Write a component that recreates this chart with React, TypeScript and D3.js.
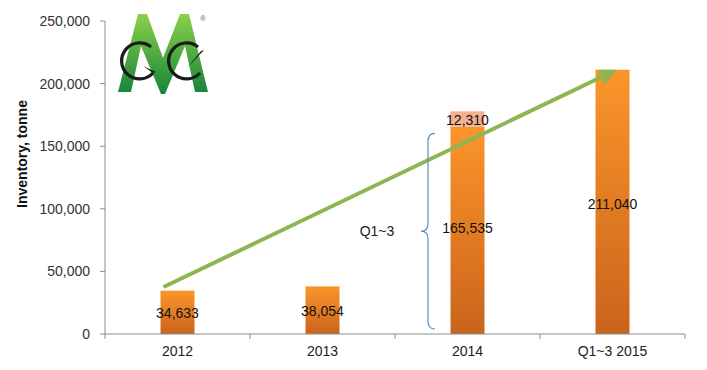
import React from "react";
import * as d3 from "d3";

const categories = ["2012", "2013", "2014", "Q1~3 2015"];
const mainValues = [34633, 38054, 165535, 211040];
const extraValues = [0, 0, 12310, 0];
const yTicks = [0, 50000, 100000, 150000, 200000, 250000];
const trendStart = { cat: "2012", value: 37500 };
const trendEnd = { cat: "Q1~3 2015", value: 209500 };

const W = 707, H = 370;
const left = 105, right = 685, top = 21, bottom = 334;

export default function App() {
  const x = d3.scaleBand<string>().domain(categories).range([left, right]).paddingInner(0).paddingOuter(0);
  const y = d3.scaleLinear().domain([0, 250000]).range([bottom, top]);
  const bw = 34;
  const fmt = d3.format(",");
  const font = "'Liberation Sans', Arial, sans-serif";
  const cx = (c: string) => (x(c) as number) + x.bandwidth() / 2;

  const sx = cx(trendStart.cat) - 14, sy = y(trendStart.value);
  const ex = cx(trendEnd.cat), ey = y(trendEnd.value);
  const ang = Math.atan2(ey - sy, ex - sx);
  const ah = 14;
  const a1 = ang + Math.PI - 0.45, a2 = ang + Math.PI + 0.45;

  // brace
  const bTop = y(extraValues[2] + mainValues[2]) + 22;
  const bBot = bottom - 5;
  const bMid = (bTop + bBot) / 2;
  const bx = 428;
  const brace = `M${bx + 7},${bTop} Q${bx},${bTop} ${bx},${bTop + 8} L${bx},${bMid - 8} Q${bx},${bMid} ${bx - 7},${bMid} Q${bx},${bMid} ${bx},${bMid + 8} L${bx},${bBot - 8} Q${bx},${bBot} ${bx + 7},${bBot}`;

  return (
    <svg width={W} height={H} style={{ position: "absolute", left: 0, top: 0 }} fontFamily={font}>
      <defs>
        <linearGradient id="barG" x1="0" y1="0" x2="0" y2="1">
          <stop offset="0" stopColor="#fb952a" />
          <stop offset="1" stopColor="#ca641c" />
        </linearGradient>
        <linearGradient id="mG" x1="0" y1="0" x2="0" y2="1">
          <stop offset="0" stopColor="#8cd04a" />
          <stop offset="1" stopColor="#14853a" />
        </linearGradient>
      </defs>
      <rect width={W} height={H} fill="#fff" />

      {/* logo */}
      <g>
        <path d="M118,92 L138,14 L147,14 L163,58 L180,14 L189,14 L208,92 L195,92 L185,46 L165,94 L161,94 L141,46 L131,92 Z" fill="url(#mG)" />
        <path d="M151,47 A18,18 0 1 0 153,73" fill="none" stroke="#1a1a1a" strokeWidth={3.2} />
        <path d="M153,73 L156,72 L143,66 Z" fill="#1a1a1a" />
        <path d="M198,47 A18,18 0 1 0 200,73" fill="none" stroke="#1a1a1a" strokeWidth={3.2} />
        <path d="M201,51 L204,50 L187,68 Z" fill="#1a1a1a" />
        <text x={203} y={21} fontSize={8} fill="#666" textAnchor="middle">®</text>
      </g>

      {/* y axis */}
      <line x1={left} x2={left} y1={top} y2={bottom} stroke="#8c8c8c" />
      {yTicks.map(t => (
        <g key={t}>
          <line x1={left - 5} x2={left} y1={y(t)} y2={y(t)} stroke="#8c8c8c" />
          <text x={90} y={y(t)} dy="0.35em" textAnchor="end" fontSize={14} fill="#333">{fmt(t)}</text>
        </g>
      ))}
      <text transform={`translate(22,154) rotate(-90)`} textAnchor="middle" dy="0.35em" fontSize={14} fontWeight="bold" fill="#111">Inventory, tonne</text>

      {/* bars */}
      {categories.map((c, i) => {
        const bx0 = cx(c) - bw / 2;
        return (
          <g key={c}>
            <rect x={bx0} y={y(mainValues[i])} width={bw} height={bottom - y(mainValues[i])} fill="url(#barG)" />
            {extraValues[i] > 0 && (
              <rect x={bx0} y={y(mainValues[i] + extraValues[i])} width={bw} height={y(mainValues[i]) - y(mainValues[i] + extraValues[i])} fill="#f5b08f" />
            )}
          </g>
        );
      })}

      {/* x axis */}
      <line x1={left} x2={right} y1={bottom} y2={bottom} stroke="#8c8c8c" />
      {[...categories.map(c => x(c) as number), right].map((t, i) => (
        <line key={i} x1={t} x2={t} y1={bottom} y2={bottom + 5} stroke="#8c8c8c" />
      ))}
      {categories.map(c => (
        <text key={c} x={cx(c)} y={356} textAnchor="middle" fontSize={14} fill="#222">{c}</text>
      ))}

      {/* trend arrow */}
      <line x1={sx} y1={sy} x2={ex} y2={ey} stroke="#8db653" strokeWidth={4} />
      <path d={`M${ex + ah * Math.cos(a1)},${ey + ah * Math.sin(a1)} L${ex},${ey} L${ex + ah * Math.cos(a2)},${ey + ah * Math.sin(a2)}`} fill="none" stroke="#8db653" strokeWidth={4} strokeLinejoin="miter" />

      {/* brace */}
      <path d={brace} fill="none" stroke="#5b8ac8" strokeWidth={1.2} />
      <text x={377} y={bMid} dy="0.35em" textAnchor="middle" fontSize={14} fill="#222">Q1~3</text>

      {/* value labels */}
      <text x={cx(categories[0])} y={313} dy="0.35em" textAnchor="middle" fontSize={14} fill="#111">{fmt(mainValues[0])}</text>
      <text x={cx(categories[1])} y={311} dy="0.35em" textAnchor="middle" fontSize={14} fill="#111">{fmt(mainValues[1])}</text>
      <text x={cx(categories[2])} y={120} dy="0.35em" textAnchor="middle" fontSize={14} fill="#111">{fmt(extraValues[2])}</text>
      <text x={cx(categories[2])} y={228} dy="0.35em" textAnchor="middle" fontSize={14} fill="#111">{fmt(mainValues[2])}</text>
      <text x={cx(categories[3])} y={204} dy="0.35em" textAnchor="middle" fontSize={14} fill="#111">{fmt(mainValues[3])}</text>
    </svg>
  );
}
